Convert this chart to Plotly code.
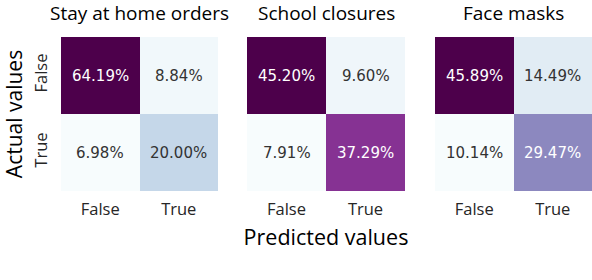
import plotly.graph_objects as go
from plotly.subplots import make_subplots

titles = ["Stay at home orders", "School closures", "Face masks"]
labels = ["False", "True"]
# rows: actual False, actual True ; cols: predicted False, predicted True
stay = [[64.19, 8.84], [6.98, 20.00]]
school = [[45.20, 9.60], [7.91, 37.29]]
masks = [[45.89, 14.49], [10.14, 29.47]]
matrices = [stay, school, masks]

BUPU = [
    [0.0, "rgb(247,252,253)"], [0.125, "rgb(224,236,244)"], [0.25, "rgb(191,211,230)"],
    [0.375, "rgb(158,188,218)"], [0.5, "rgb(140,150,198)"], [0.625, "rgb(140,107,177)"],
    [0.75, "rgb(136,65,157)"], [0.875, "rgb(129,15,124)"], [1.0, "rgb(77,0,75)"],
]

W, H = 592, 280
L, R, T, B = 61, 0, 37, 89
pw = W - L - R
px = [(61, 218), (247, 405), (435, 592)]

fig = make_subplots(rows=1, cols=3)
for i, m in enumerate(matrices):
    zmin = min(min(r) for r in m)
    zmax = max(max(r) for r in m)
    fig.add_trace(go.Heatmap(z=m, x=labels, y=labels, colorscale=BUPU, zmin=zmin, zmax=zmax,
                             showscale=False, hoverinfo="skip"), row=1, col=i + 1)
    for r in range(2):
        for c in range(2):
            v = m[r][c]
            frac = (v - zmin) / (zmax - zmin)
            fig.add_annotation(x=labels[c], y=labels[r], text=f"{v:.2f}%", showarrow=False,
                               xref=f"x{i+1 if i else ''}", yref=f"y{i+1 if i else ''}",
                               xanchor="center", yanchor="middle",
                               font=dict(family="DejaVu Sans", size=15,
                                         color="white" if frac > 0.5 else "#333333"))
    a, b = px[i]
    xa = dict(domain=[(a - L) / pw, (b - L) / pw], showgrid=False, zeroline=False, ticks="",
              tickfont=dict(family="Open Sans", size=16.5, color="#262626"), ticklabelstandoff=6,
              showline=False, automargin=False)
    ya = dict(autorange="reversed", showgrid=False, zeroline=False, ticks="", tickangle=-90,
              tickfont=dict(family="Open Sans", size=16.5, color="#262626"),
              showticklabels=(i == 0), ticklabelstandoff=10, automargin=False)
    fig.update_xaxes(**xa, row=1, col=i + 1)
    fig.update_yaxes(**ya, row=1, col=i + 1)
    fig.add_annotation(x=((a + b) / 2 - L) / pw, y=1, xref="paper", yref="paper", yanchor="bottom",
                       xanchor="center", yshift=9, text=titles[i], showarrow=False,
                       font=dict(family="Open Sans", size=19, color="black"))

fig.update_yaxes(title=dict(text="Actual values", font=dict(family="Open Sans", size=21, color="black"),
                            standoff=4), row=1, col=1)
fig.update_xaxes(title=dict(text="Predicted values", font=dict(family="Open Sans", size=21.5, color="black"),
                            standoff=11), row=1, col=2)

fig.update_layout(width=W, height=H, margin=dict(l=L, r=R, t=T, b=B), plot_bgcolor="white",
                  paper_bgcolor="white", showlegend=False)
fig.write_html("out.html", config={"displayModeBar": False},
               post_script="document.body.style.margin='0';")
